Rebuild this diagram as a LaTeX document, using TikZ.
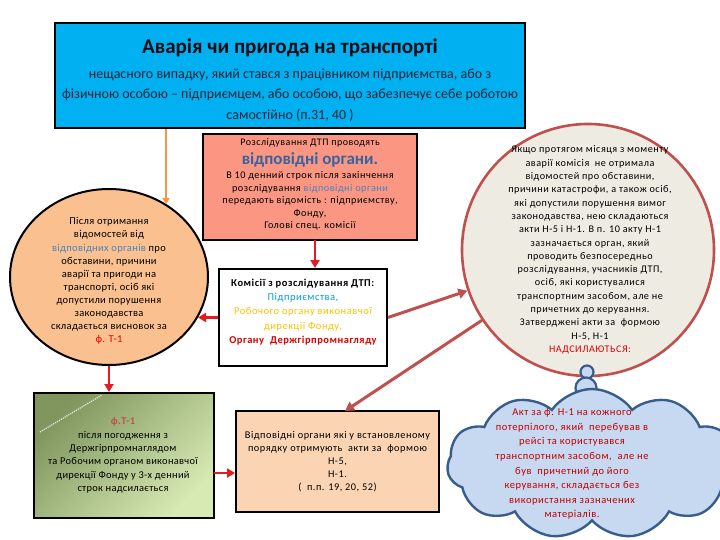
\documentclass[tikz,border=0pt]{standalone}
\usepackage{fontspec}
\setmainfont{Carlito}
\newfontfamily\bodyfont[LetterSpace=5]{Carlito}
\newfontfamily\bodyfontb[LetterSpace=3]{Carlito}
\usetikzlibrary{arrows.meta,shapes.geometric,shapes.symbols,calc}
\definecolor{titleblue}{RGB}{0,176,240}
\definecolor{subcol}{RGB}{28,38,58}
\definecolor{peach}{RGB}{250,192,143}
\definecolor{salmon}{RGB}{250,150,130}
\definecolor{lpeach}{RGB}{251,212,180}
\definecolor{gdark}{RGB}{128,150,94}
\definecolor{glight}{RGB}{216,234,180}
\definecolor{rfill}{RGB}{238,235,226}
\definecolor{rline}{RGB}{192,80,77}
\definecolor{cfill}{RGB}{198,217,241}
\definecolor{cline}{RGB}{56,93,138}
\definecolor{arrred}{RGB}{228,28,32}
\definecolor{orarr}{RGB}{247,150,70}
\definecolor{steel}{RGB}{79,129,189}
\definecolor{bigblue}{RGB}{55,100,160}
\definecolor{cyantx}{RGB}{0,160,224}
\definecolor{goldtx}{RGB}{255,192,0}
\definecolor{redtx}{RGB}{222,0,0}
\definecolor{dredtx}{RGB}{192,0,0}
\begin{document}
\begin{tikzpicture}[x=1pt,y=-1pt,
  boxshape/.style={draw=black,line width=2pt,inner sep=0pt,rectangle},
  txt/.style={align=center,inner sep=0pt,text=black},
  redarrow/.style={draw=arrred,line width=2.6pt,-{Triangle[length=8pt,width=9pt]}},
  brnarrow/.style={draw=rline,line width=3pt,-{Triangle[length=9pt,width=10pt]}},
  orarrow/.style={draw=orarr,line width=2.8pt,-{Triangle[length=6pt,width=7pt]}}]
\useasboundingbox (0,0) rectangle (720,540);
\fill[white] (0,0) rectangle (720,540);

% title box
\node[boxshape,fill=titleblue,minimum width=470,minimum height=105] (title) at (290,75.5) {};
\node[txt,font=\bfseries\fontsize{21}{25}\selectfont,text={rgb,255:red,12;green,12;blue,20}] (ttl) at (290,48) {Аварія чи пригода на транспорті};
\node[txt,font=\fontsize{14}{20.5}\selectfont,text=subcol] (tsub) at (290,95) {нещасного випадку, який стався з працівником підприємства, або з\\фізичною особою – підприємцем, або особою, що забезпечує себе роботою\\самостійно (п.31, 40 )};

% left circle
\node[ellipse,draw=black,line width=2pt,fill=peach,minimum width=198,minimum height=176,inner sep=0pt] (lcirc) at (109,277) {};
\node[txt,font=\bodyfontb\fontsize{10.5}{13.1}\selectfont] (ltxt) at (109,281) {Після отримання\\відомостей від\\\textcolor{steel}{відповідних органів} про\\обставини, причини\\аварії та пригоди на\\транспорті, осіб які\\допустили порушення\\законодавства\\складається висновок за\\\textcolor{redtx}{ф. Т-1}};

% salmon box
\node[boxshape,fill=salmon,minimum width=214,minimum height=106] (sal) at (310,187) {};
\node[txt,font=\bodyfont\fontsize{10}{12}\selectfont] (sal1) at (310,143) {Розслідування ДТП проводять};
\node[txt,font=\bfseries\fontsize{17}{19}\selectfont,text=bigblue] (sal2) at (310,160) {відповідні органи.};
\node[txt,font=\bodyfont\fontsize{10.2}{12.6}\selectfont] (sal3) at (310,201) {В 10 денний строк після закінчення\\розслідування \textcolor{steel}{відповідні органи}\\передають відомість : підприємству,\\Фонду,\\Голові спец. комісії};

% commission box
\node[boxshape,fill=white,minimum width=168,minimum height=97] (kom) at (303,317.5) {};
\node[txt,font=\bodyfont\fontsize{10.5}{14.2}\selectfont] (komt) at (303,312) {\textbf{Комісії з розслідування ДТП:}\\\textcolor{cyantx}{Підприємства,}\\\textcolor{goldtx}{Робочого органу виконавчої}\\\textcolor{goldtx}{дирекції Фонду,}\\\textcolor{redtx}{\bfseries Органу \ Держгірпромнагляду}};

% green box
\shade[top color=gdark,bottom color=glight,shading angle=45] (34,393) rectangle (214,518);
\node[boxshape,minimum width=180,minimum height=125] (green) at (124,455.5) {};
\draw[white,densely dotted,line width=1.2pt,opacity=0.8] (40,432) -- (102,395);
\node[txt,font=\bodyfontb\fontsize{10.4}{13.4}\selectfont] (gtxt) at (123,455.5) {\textcolor{rline}{\bfseries ф.Т-1}\\після погодження з\\Держгірпромнаглядом\\та Робочим органом виконавчої\\дирекції Фонду у 3-х денний\\строк надсилається};

% bodies box
\node[boxshape,fill=lpeach,minimum width=203,minimum height=101] (vo) at (337.5,461.5) {};
\node[txt,font=\bodyfont\fontsize{10.3}{13}\selectfont] (votxt) at (337.5,462) {Відповідні органи які у встановленому\\порядку отримують \ акти за \ формою\\Н-5,\\Н-1.\\( \ п.п. 19, 20, 52)};

% right circle
\node[circle,draw=rline,line width=2.6pt,fill=rfill,minimum size=252,inner sep=0pt] (rcirc) at (588,250) {};
\node[txt,font=\bodyfont\fontsize{10.2}{13.3}\selectfont] (rtxt) at (590,250) {Якщо протягом місяця з моменту\\аварії комісія \ не отримала\\відомостей про обставини,\\причини катастрофи, а також осіб,\\які допустили порушення вимог\\законодавства, нею складаються\\акти Н-5 і Н-1. В п. 10 акту Н-1\\зазначається орган, який\\проводить безпосередньо\\розслідування, учасників ДТП,\\осіб, які користувалися\\транспортним засобом, але не\\причетних до керування.\\Затверджені акти за \ формою\\Н-5, Н-1\\\textcolor{redtx}{НАДСИЛАЮТЬСЯ:}};

% thought bubbles and cloud
\node[circle,draw=cline,fill=cfill,line width=2.2pt,minimum size=13,inner sep=0pt] (b1) at (587,372) {};
\node[circle,draw=cline,fill=cfill,line width=2.2pt,minimum size=21,inner sep=0pt] (b2) at (586,388) {};
\node[cloud,cloud puffs=11,cloud puff arc=110,cloud ignores aspect,draw=cline,fill=cfill,line width=2.4pt,minimum width=290,minimum height=150,inner sep=0pt] (cloud) at (592,464) {};
\node[txt,font=\bodyfont\fontsize{10.5}{14.6}\selectfont,text=dredtx] (ctxt) at (572,464) {Акт за ф. Н-1 на кожного\\потерпілого, який \ перебував в\\рейсі та користувався\\транспортним засобом, \ але не\\був \ причетний до його\\керування, складається без\\використання зазначених\\матеріалів.};

% connectors
\coordinate (oaE) at (166,204);
\draw[orarrow] (title.south -| oaE) -- (oaE);
\coordinate (s2k) at (315,240);
\draw[redarrow] (s2k) -- (s2k |- kom.north);
\coordinate (k2l) at (198,317.5);
\draw[redarrow] (kom.west) -- (k2l);
\draw[redarrow] (lcirc.south) -- (lcirc.south |- green.north);
\coordinate (g2v) at (214,473);
\draw[redarrow] (g2v) -- (g2v -| vo.west);
\draw[brnarrow] (kom.east) -- (rcirc);
\coordinate (voN) at (345,411);
\draw[brnarrow] (rcirc) -- (voN);
\end{tikzpicture}
\end{document}
